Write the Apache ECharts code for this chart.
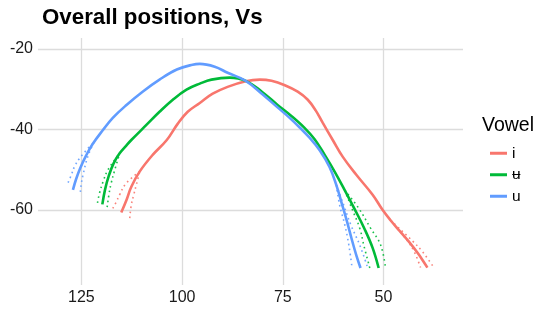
<!DOCTYPE html>
<html>
<head>
<meta charset="utf-8">
<script src="https://cdn.jsdelivr.net/npm/echarts@6/dist/echarts.min.js"></script>
<style>
  html, body { margin: 0; padding: 0; background: #ffffff; }
  #chart { width: 538px; height: 311px; }
</style>
</head>
<body>
<div id="chart"></div>
<script>
// ---------- data ----------
const vowels = ['i', 'ʉ', 'u'];
const xTicks = [125, 100, 75, 50];
const yTicks = [-60, -40, -20];

// main smooth curves [x, y]
const iLine = [[115.1,-60.6],[113.8,-57.5],[112.6,-54.2],[110.5,-50.4],[107.3,-46.3],[103.8,-42.6],[101.1,-38.6],[98.6,-35.6],[95.6,-33.4],[92.4,-31.1],[88.7,-29.4],[84.2,-28.0],[80.7,-27.6],[77.8,-27.9],[74.5,-29.0],[71.3,-30.6],[68.8,-32.6],[66.8,-35.3],[65.1,-38.3],[62.6,-42.6],[60.1,-46.8],[56.7,-51.3],[52.7,-56.2],[50.2,-60.0],[48.2,-62.6],[46.0,-65.2],[43.5,-68.1],[41.5,-70.7],[40.0,-72.9],[39.1,-74.3]];
const uBarLine = [[119.8,-58.6],[119.1,-54.8],[118.2,-51.5],[117.0,-48.4],[115.5,-45.9],[113.7,-43.8],[112.6,-42.6],[108.8,-38.8],[105.6,-35.6],[102.3,-32.6],[98.9,-30.1],[95.6,-28.6],[92.7,-27.6],[88.2,-27.1],[84.2,-27.9],[80.2,-30.6],[76.3,-33.9],[72.8,-36.7],[69.6,-39.6],[67.1,-42.4],[64.6,-46.3],[62.1,-50.5],[59.6,-55.1],[57.2,-59.7],[54.7,-64.7],[52.7,-69.4],[51.2,-74.4]];
const uLine = [[127.1,-55.0],[126.3,-52.3],[125.3,-49.6],[123.9,-46.6],[122.2,-43.6],[119.7,-40.2],[117.2,-37.1],[113.8,-33.9],[109.8,-30.6],[105.6,-27.6],[101.3,-25.1],[97.4,-23.9],[95.6,-23.7],[91.9,-24.4],[88.7,-25.9],[84.2,-27.9],[80.2,-31.1],[76.3,-34.5],[73.3,-37.1],[70.8,-39.5],[68.3,-42.1],[65.8,-45.2],[63.4,-49.3],[61.7,-53.8],[60.4,-58.2],[59.1,-62.7],[57.9,-67.2],[56.7,-71.4],[55.7,-74.4]];

// dotted band edges near the curve ends
const iDotsStartA = [[117.2,-59.6],[116.3,-57.9],[115.5,-56.2],[114.0,-53.5],[110.5,-50.4]];
const iDotsStartB = [[113.0,-62.0],[112.6,-58.7],[112.0,-56.2],[111.3,-53.5],[110.5,-50.4]];
const iDotsEndA = [[48.2,-62.6],[44.1,-67.6],[42.3,-70.5],[40.8,-74.3]];
const iDotsEndB = [[48.2,-62.6],[42.9,-67.6],[40.2,-70.5],[37.5,-74.3]];

const uBarDotsStartA = [[121.0,-58.2],[120.5,-55.8],[119.6,-52.9],[118.4,-50.0],[115.5,-45.9]];
const uBarDotsStartB = [[118.6,-59.3],[118.1,-55.8],[117.6,-53.3],[116.7,-50.0],[115.5,-45.9]];
const uBarDotsEndA = [[59.6,-55.1],[57.9,-59.5],[55.9,-64.5],[54.9,-68.7],[53.4,-74.4]];
const uBarDotsEndB = [[59.6,-55.1],[56.2,-59.5],[53.2,-64.5],[50.7,-68.7],[49.5,-74.4]];

const uDotsStartA = [[128.3,-53.2],[127.5,-51.3],[126.7,-49.2],[125.4,-47.1],[122.4,-43.6]];
const uDotsStartB = [[125.25,-55.5],[125.0,-53.3],[124.6,-51.3],[123.4,-46.7],[121.7,-42.8]];
const uDotsEndA = [[61.7,-53.8],[60.9,-58.7],[59.6,-63.7],[58.6,-68.7],[57.8,-74.4]];
const uDotsEndB = [[61.7,-53.8],[59.9,-58.7],[58.1,-63.7],[55.9,-68.7],[53.9,-74.4]];

// ---------- styling ----------
const colors = ['#F8766D', '#00BA38', '#619CFF'];
const mainLines = [iLine, uBarLine, uLine];
const dotted = [
  [iDotsStartA, iDotsStartB, iDotsEndA, iDotsEndB],
  [uBarDotsStartA, uBarDotsStartB, uBarDotsEndA, uBarDotsEndB],
  [uDotsStartA, uDotsStartB, uDotsEndA, uDotsEndB]
];

const series = [];
dotted.forEach((segs, k) => {
  segs.forEach((seg, j) => {
    series.push({
      type: 'line', name: vowels[k] + '_band' + j, data: seg,
      showSymbol: false, smooth: 0.4, silent: true, z: 2,
      lineStyle: { color: colors[k], width: 1.6, type: [1.6, 3.4], opacity: 0.9 }
    });
  });
});
mainLines.forEach((d, k) => {
  series.push({
    type: 'line', name: vowels[k], data: d,
    showSymbol: false, smooth: 0.4, z: 3,
    itemStyle: { color: colors[k] },
    lineStyle: { color: colors[k], width: 2.6 }
  });
});

const gridColor = '#DCDCDC';
const textColor = '#1A1A1A';
const font = 'Liberation Sans, Arial, Helvetica, sans-serif';

const chart = echarts.init(document.getElementById('chart'), null, { renderer: 'canvas' });
chart.setOption({
  animation: false,
  backgroundColor: '#ffffff',
  title: [
    { text: 'Overall positions, Vs', left: 42, top: 7, padding: 0,
      textStyle: { fontFamily: font, fontSize: 22.3, fontWeight: 'bold', color: '#000' } },
    { text: 'Vowel', left: 482, top: 116, padding: 0,
      textStyle: { fontFamily: font, fontSize: 19.5, fontWeight: 'normal', color: '#000' } }
  ],
  grid: { left: 38, right: 75, top: 38, bottom: 26, containLabel: false },
  legend: {
    data: vowels.map(v => ({ name: v, icon: 'rect' })),
    orient: 'vertical', left: 485, top: 137.5,
    itemWidth: 17, itemHeight: 3, itemGap: 0, itemTextGap: 12,
    textStyle: { fontFamily: font, fontSize: 15.5, color: '#000', lineHeight: 21.5 },
    selectedMode: false
  },
  xAxis: {
    type: 'value', inverse: true, min: 30.26, max: 135.77,
    axisLine: { show: false }, axisTick: { show: false, customValues: xTicks },
    axisLabel: { customValues: xTicks, margin: 5, fontFamily: font, fontSize: 16, color: textColor },
    splitLine: { show: true, lineStyle: { color: gridColor, width: 1.3 } }
  },
  yAxis: {
    type: 'value', min: -78.63, max: -17.26,
    axisLine: { show: false }, axisTick: { show: false, customValues: yTicks },
    axisLabel: { customValues: yTicks, margin: 5, fontFamily: font, fontSize: 16, color: textColor },
    splitLine: { show: true, lineStyle: { color: gridColor, width: 1.3 } }
  },
  series: series
});
</script>
</body>
</html>
